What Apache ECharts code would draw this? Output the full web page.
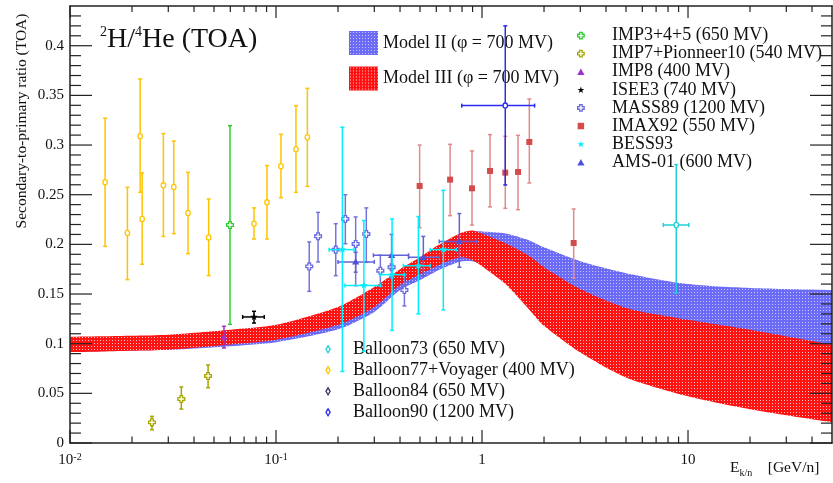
<!DOCTYPE html>
<html><head><meta charset="utf-8">
<script src="https://cdn.jsdelivr.net/npm/echarts@6/dist/echarts.min.js"></script>
<style>html,body{margin:0;padding:0;background:#fff}#c{width:833px;height:483px}</style>
</head><body><div id="c"></div><script>
const FONT = '"Liberation Serif","Times New Roman",serif';

// ---- model bands (E in GeV/n) ----
const bandE    = [0.008,0.01,0.02,0.03,0.06,0.1,0.2,0.3,0.4,0.5,0.6,0.7,0.8,0.9,1.0,1.3,1.7,2,3,5,10,20,50,60];
const model3Hi = [0.1065,0.107,0.108,0.109,0.114,0.119,0.137,0.157,0.175,0.187,0.198,0.206,0.212,0.214,0.211,0.201,0.188,0.177,0.155,0.136,0.124,0.114,0.099,0.097];
const model3Lo = [0.0915,0.0915,0.093,0.094,0.0993,0.104,0.119,0.137,0.159,0.170,0.178,0.184,0.187,0.184,0.178,0.160,0.134,0.118,0.091,0.066,0.047,0.034,0.021,0.020];
const model2Hi = [0.104,0.104,0.105,0.106,0.111,0.116,0.133,0.152,0.170,0.183,0.195,0.204,0.210,0.213,0.213,0.211,0.204,0.197,0.183,0.171,0.160,0.156,0.154,0.154];
const model2Lo = [0.0918,0.0918,0.0932,0.0938,0.0975,0.1015,0.1145,0.132,0.154,0.164,0.173,0.179,0.183,0.183,0.180,0.168,0.150,0.140,0.125,0.115,0.105,0.100,0.090,0.090];

// ---- data: [E, ratio, errLow, errHigh, (Elow, Ehigh)] ----
const balloon77 = [
  [0.0148,0.2625,0.198,0.327],[0.019,0.2115,0.1645,0.2574],[0.0219,0.3088,0.2524,0.3666],
  [0.0224,0.2256,0.180,0.272],[0.0284,0.2594,0.208,0.3115],[0.0319,0.2578,0.2108,0.304],
  [0.0374,0.2316,0.1906,0.2725],[0.0471,0.207,0.1685,0.2457],[0.0782,0.2208,0.2054,0.2367],
  [0.0904,0.2423,0.2054,0.2793],[0.1057,0.2786,0.247,0.3108],[0.125,0.2957,0.2524,0.3397],
  [0.142,0.3078,0.2584,0.3571]];
const imp345 = [[0.0598,0.2195,0.1195,0.3195]];
const imp7 = [[0.025,0.0208,0.0134,0.0268],[0.0347,0.0443,0.0342,0.0564],[0.0468,0.0675,0.0557,0.0785]];
const imp8 = [[0.0559,0.1067,0.0957,0.1175]];
const isee3 = [[0.0782,0.1269,0.1208,0.1326,0.0689,0.0877]];
const mass89 = [
  [0.145,0.1778,0.1527,0.2024],[0.160,0.2081,0.1823,0.2322],[0.195,0.1947,0.1685,0.2208],
  [0.217,0.2256,0.2007,0.250],[0.2436,0.2004,0.1584,0.2276],[0.2744,0.2105,0.1819,0.2367],
  [0.321,0.1735,0.158,0.189],[0.364,0.177,0.166,0.188],[0.42,0.154,0.138,0.169]];
const imax92 = [
  [0.498,0.2588,0.2168,0.300],[0.70,0.2652,0.2289,0.3007],[0.894,0.2564,0.2195,0.294],
  [1.094,0.2739,0.2377,0.3105],[1.297,0.2722,0.2363,0.3088],[1.496,0.2729,0.2349,0.3098],
  [1.697,0.3031,0.2618,0.3464],[2.786,0.2014,0.166,0.2356]];
const bess93 = [
  [0.21,0.1947,0.072,0.318,0.181,0.239],[0.267,0.1587,0.0922,0.224,0.216,0.322],
  [0.366,0.1695,0.1134,0.2256,0.32,0.42],[0.491,0.1785,0.130,0.228,0.415,0.56],
  [0.649,0.1947,0.134,0.2544,0.56,0.75]];
const ams01 = [
  [0.2436,0.1823,0.172,0.192,0.20,0.30],[0.364,0.189,0.168,0.21,0.297,0.44],
  [0.519,0.187,0.168,0.208,0.44,0.62],[0.776,0.203,0.177,0.231,0.62,0.94]];
const balloon73 = [[8.77,0.2195,0.151,0.2803,7.59,10.08]];
const balloon84 = [];
const balloon90 = [[1.297,0.3397,0.2598,0.420,0.797,1.80]];

// ---- ticks ----
const xMajorTicks = [0.01,0.1,1,10];
const xMinorTicks = [0.02,0.03,0.04,0.05,0.06,0.07,0.08,0.09,0.2,0.3,0.4,0.5,0.6,0.7,0.8,0.9,2,3,4,5,6,7,8,9,20,30,40];
const yMajorTicks = [0,0.05,0.1,0.15,0.2,0.25,0.3,0.35,0.4];
const yMinorTicks = [0.01,0.02,0.03,0.04,0.06,0.07,0.08,0.09,0.11,0.12,0.13,0.14,0.16,0.17,0.18,0.19,
  0.21,0.22,0.23,0.24,0.26,0.27,0.28,0.29,0.31,0.32,0.33,0.34,0.36,0.37,0.38,0.39,0.41,0.42,0.43];

function makePattern(base, dot) {
  const c = document.createElement('canvas'); c.width = 3; c.height = 3;
  const g = c.getContext('2d'); g.fillStyle = base; g.fillRect(0,0,3,3);
  g.fillStyle = dot; g.fillRect(1,1,1,1);
  return {image: c, repeat: 'repeat'};
}
const bluePat = makePattern('#6b6bf6', '#c4c4ff');
const redPat = makePattern('#ff1212', '#ffc4c4');

function bandSeries(name, lo, hi, pat, z) {
  return {
    type: 'custom', name, coordinateSystem: 'cartesian2d', clip: true, z, silent: true,
    itemStyle: {color: pat},
    data: bandE.map((e, i) => [e, lo[i], hi[i]]),
    encode: {x: 0, y: 1},
    renderItem(params, api) {
      if (params.dataIndex !== 0) return null;
      const pts = [];
      for (let i = 0; i < bandE.length; i++) pts.push(api.coord([bandE[i], hi[i]]));
      for (let i = bandE.length - 1; i >= 0; i--) pts.push(api.coord([bandE[i], lo[i]]));
      return {type: 'polygon', shape: {points: pts, smooth: 0.25}, style: {fill: pat}};
    }
  };
}

function markerShape(type, x, y, color) {
  if (type === 'ocircle') return {type:'ellipse', shape:{cx:x, cy:y, rx:2.2, ry:2.6}, style:{fill:'#fff', stroke:color, lineWidth:1.3}};
  if (type === 'square') return {type:'rect', shape:{x:x-3, y:y-3, width:6, height:6}, style:{fill:color}};
  if (type === 'triangle') return {type:'polygon', shape:{points:[[x,y-3.5],[x+3.6,y+2.6],[x-3.6,y+2.6]]}, style:{fill:color}};
  if (type === 'ocross') {
    const a = 1.3, b = 3.4;
    return {type:'polygon', shape:{points:[[x-a,y-b],[x+a,y-b],[x+a,y-a],[x+b,y-a],[x+b,y+a],[x+a,y+a],[x+a,y+b],[x-a,y+b],[x-a,y+a],[x-b,y+a],[x-b,y-a],[x-a,y-a]]}, style:{fill:'#fff', stroke:color, lineWidth:1.3}};
  }
  if (type === 'star') {
    const pts = [];
    for (let k = 0; k < 10; k++) {
      const r = k % 2 ? 1.6 : 4, ang = -Math.PI/2 + k*Math.PI/5;
      pts.push([x + r*Math.cos(ang), y + r*Math.sin(ang)]);
    }
    return {type:'polygon', shape:{points:pts}, style:{fill:color}};
  }
  return null;
}

function pointSeries(name, data, color, marker, barColor) {
  const bc = barColor || color;
  return {
    type: 'custom', name, coordinateSystem: 'cartesian2d', z: 4, clip: true,
    itemStyle: {color},
    data,
    encode: {x: 0, y: 1},
    renderItem(params, api) {
      const d = data[params.dataIndex];
      const p = api.coord([d[0], d[1]]);
      const lo = api.coord([d[0], d[2]]);
      const hi = api.coord([d[0], d[3]]);
      const ls = {stroke: bc, lineWidth: 1.5};
      const ch = [
        {type:'line', shape:{x1:p[0], y1:lo[1], x2:p[0], y2:hi[1]}, style:ls},
        {type:'line', shape:{x1:p[0]-2, y1:lo[1], x2:p[0]+2, y2:lo[1]}, style:ls},
        {type:'line', shape:{x1:p[0]-2, y1:hi[1], x2:p[0]+2, y2:hi[1]}, style:ls}
      ];
      if (d.length > 4) {
        const l = api.coord([d[4], d[1]]), r = api.coord([d[5], d[1]]);
        ch.push({type:'line', shape:{x1:l[0], y1:p[1], x2:r[0], y2:p[1]}, style:ls});
        ch.push({type:'line', shape:{x1:l[0], y1:p[1]-2, x2:l[0], y2:p[1]+2}, style:ls});
        ch.push({type:'line', shape:{x1:r[0], y1:p[1]-2, x2:r[0], y2:p[1]+2}, style:ls});
      }
      ch.push(markerShape(marker, p[0], p[1], color));
      return {type:'group', children: ch};
    }
  };
}

const xTickData = xMajorTicks.map(v => [v, 0.2, 1]).concat(xMinorTicks.map(v => [v, 0.2, 0]));
const yTickData = yMajorTicks.map(v => [1, v, 1]).concat(yMinorTicks.map(v => [1, v, 0]));
const tickStyle = {stroke: '#222', lineWidth: 1.2};
const xTickSeries = {
  type:'custom', coordinateSystem:'cartesian2d', silent:true, z:6, clip:false,
  data: xTickData, encode:{x:0, y:1},
  renderItem(params, api) {
    const cs = params.coordSys, d = xTickData[params.dataIndex];
    const px = api.coord([d[0], d[1]])[0], bot = cs.y + cs.height, top = cs.y;
    const lb = d[2] ? 13 : 6.5, lt = d[2] ? 12 : 6;
    return {type:'group', children:[
      {type:'line', shape:{x1:px, y1:bot, x2:px, y2:bot-lb}, style:tickStyle},
      {type:'line', shape:{x1:px, y1:top, x2:px, y2:top+lt}, style:tickStyle}]};
  }
};
const yTickSeries = {
  type:'custom', coordinateSystem:'cartesian2d', silent:true, z:6, clip:false,
  data: yTickData, encode:{x:0, y:1},
  renderItem(params, api) {
    const cs = params.coordSys, d = yTickData[params.dataIndex];
    const py = api.coord([d[0], d[1]])[1], l = cs.x, r = cs.x + cs.width;
    const len = d[2] ? 22 : 11;
    return {type:'group', children:[
      {type:'line', shape:{x1:l, y1:py, x2:l+len, y2:py}, style:tickStyle},
      {type:'line', shape:{x1:r, y1:py, x2:r-len, y2:py}, style:tickStyle}]};
  }
};

const C = {
  imp345:'#2ecc2e', imp7:'#a6a600', imp8:'#9933cc', isee3:'#000000', mass89:'#6a6ae0',
  imax92:'#d24c4c', bess93:'#00eeff', ams01:'#5050d8', b73:'#22cfd6', b77:'#ffc400', b84:'#333366', b90:'#2a2af0'
};
const ICON = {
  ocross:'path://M3,0H7V3H10V7H7V10H3V7H0V3H3Z',
  triangle:'path://M5,0L10,9H0Z',
  star:'path://M5,0L6.2,3.6L10,3.6L6.9,5.8L8.1,9.5L5,7.2L1.9,9.5L3.1,5.8L0,3.6L3.8,3.6Z',
  square:'path://M0,0H10V10H0Z',
  diamond:'path://M3,0L6,5L3,10L0,5Z'
};
function legItem(name, icon, color, open) {
  return {name, icon: ICON[icon], itemStyle: open ? {color:'#fff', borderColor:color, borderWidth:1.3} : {color, borderWidth:0}};
}

const N = {
  m2:'Model II (\u03c6 = 700 MV)', m3:'Model III (\u03c6 = 700 MV)',
  imp345:'IMP3+4+5 (650 MV)', imp7:'IMP7+Pionneer10 (540 MV)', imp8:'IMP8 (400 MV)', isee3:'ISEE3 (740 MV)',
  mass89:'MASS89 (1200 MV)', imax92:'IMAX92 (550 MV)', bess93:'BESS93', ams01:'AMS-01 (600 MV)',
  b73:'Balloon73 (650 MV)', b77:'Balloon77+Voyager (400 MV)', b84:'Balloon84 (650 MV)', b90:'Balloon90 (1200 MV)'
};
const legText = {fontFamily: FONT, fontSize: 18, color: '#111'};

const chart = echarts.init(document.getElementById('c'), null, {renderer: 'canvas'});
chart.setOption({
  animation: false,
  backgroundColor: '#fff',
  grid: {left: 70, right: 1, top: 6, bottom: 40, containLabel: false},
  title: [
    {text: '{s|2}{n|H/}{s|4}{n|He (TOA)}', left: 100, top: 25, padding: 0,
     textStyle: {fontWeight: 'normal', rich: {n: {fontFamily: FONT, fontSize: 28, fontWeight: 'normal', lineHeight: 30, color: '#111'},
                        s: {fontFamily: FONT, fontSize: 14, fontWeight: 'normal', lineHeight: 12, verticalAlign: 'top', color: '#111'}}}},
    {text: '{n|E}{b|k/n}{n|    [GeV/n]}', left: 730, top: 458, padding: 0,
     textStyle: {fontWeight: 'normal', rich: {n: {fontFamily: FONT, fontSize: 15.5, fontWeight: 'normal', lineHeight: 20, color: '#111'},
                        b: {fontFamily: FONT, fontSize: 10, fontWeight: 'normal', lineHeight: 12, verticalAlign: 'bottom', color: '#111'}}}}
  ],
  graphic: [{type: 'text', x: 22, y: 121, rotation: Math.PI / 2,
    style: {text: 'Secondary-to-primary ratio (TOA)', font: '15.5px ' + FONT, fill: '#111', align: 'center', verticalAlign: 'middle'}}],
  legend: [
    {data: [{name: N.m2, icon: 'rect', itemStyle: {color: bluePat}}, {name: N.m3, icon: 'rect', itemStyle: {color: redPat}}],
     orient: 'vertical', left: 349, top: 31, padding: 0, itemWidth: 29, itemHeight: 24, itemGap: 11.5,
     selectedMode: false, textStyle: Object.assign({lineHeight: 24}, legText)},
    {data: [legItem(N.imp345,'ocross',C.imp345,true), legItem(N.imp7,'ocross',C.imp7,true), legItem(N.imp8,'triangle',C.imp8,false),
            legItem(N.isee3,'star',C.isee3,false), legItem(N.mass89,'ocross',C.mass89,true), legItem(N.imax92,'square',C.imax92,false),
            legItem(N.bess93,'star',C.bess93,false), legItem(N.ams01,'triangle',C.ams01,false)],
     orient: 'vertical', left: 577, top: 26.5, padding: 0, itemWidth: 52, itemHeight: 6.5, itemGap: 0,
     selectedMode: false, textStyle: Object.assign({lineHeight: 18.1}, legText)},
    {data: [legItem(N.b73,'diamond',C.b73,true), legItem(N.b77,'diamond',C.b77,true), legItem(N.b84,'diamond',C.b84,true), legItem(N.b90,'diamond',C.b90,true)],
     orient: 'vertical', left: 325.3, top: 338.8, padding: 0, itemWidth: 40, itemHeight: 7, itemGap: 0,
     selectedMode: false, textStyle: Object.assign({lineHeight: 21}, legText)}
  ],
  xAxis: [
    {type: 'log', logBase: 10, min: 0.01, max: 50, position: 'bottom', z: 7,
     axisLine: {show: true, onZero: false, lineStyle: {color: '#222', width: 1.5}},
     axisTick: {show: false}, splitLine: {show: false}, minorTick: {show: false},
     axisLabel: {margin: 9, showMaxLabel: false, color: '#111',
       formatter: v => { const e = Math.round(Math.log10(v)); return e === 0 ? '{b|1}' : e === 1 ? '{b|10}' : '{b|10}{s|' + e + '}'; },
       rich: {b: {fontFamily: FONT, fontSize: 15, lineHeight: 16, color: '#111'},
              s: {fontFamily: FONT, fontSize: 10, lineHeight: 10, verticalAlign: 'top', color: '#111'}}}},
    {type: 'log', logBase: 10, min: 0.01, max: 50, position: 'top', z: 7,
     axisLine: {show: true, onZero: false, lineStyle: {color: '#222', width: 1.5}},
     axisTick: {show: false}, splitLine: {show: false}, axisLabel: {show: false}}
  ],
  yAxis: [
    {type: 'value', min: 0, max: 0.44, interval: 0.05, position: 'left', z: 7,
     axisLine: {show: true, onZero: false, lineStyle: {color: '#222', width: 1.5}},
     axisTick: {show: false}, splitLine: {show: false},
     axisLabel: {margin: 6, showMaxLabel: false, color: '#111', fontFamily: FONT, fontSize: 15,
       formatter: v => String(+v.toFixed(2))}},
    {type: 'value', min: 0, max: 0.44, interval: 0.05, position: 'right', z: 7,
     axisLine: {show: true, onZero: false, lineStyle: {color: '#222', width: 1.5}},
     axisTick: {show: false}, splitLine: {show: false}, axisLabel: {show: false}}
  ],
  series: [
    bandSeries(N.m2, model2Lo, model2Hi, bluePat, 2),
    bandSeries(N.m3, model3Lo, model3Hi, redPat, 3),
    pointSeries(N.b77, balloon77, C.b77, 'ocircle'),
    pointSeries(N.imp345, imp345, C.imp345, 'ocross'),
    pointSeries(N.imp7, imp7, C.imp7, 'ocross'),
    pointSeries(N.imp8, imp8, C.imp8, 'triangle'),
    pointSeries(N.isee3, isee3, C.isee3, 'star'),
    pointSeries(N.mass89, mass89, C.mass89, 'ocross', '#7474dc'),
    pointSeries(N.imax92, imax92, C.imax92, 'square', '#e08a8a'),
    pointSeries(N.b84, balloon84, C.b84, 'ocircle'),
    pointSeries(N.ams01, ams01, C.ams01, 'triangle', '#6262d8'),
    pointSeries(N.bess93, bess93, C.bess93, 'star'),
    pointSeries(N.b73, balloon73, C.b73, 'ocircle'),
    pointSeries(N.b90, balloon90, C.b90, 'ocircle'),
    xTickSeries, yTickSeries
  ]
});
</script></body></html>
